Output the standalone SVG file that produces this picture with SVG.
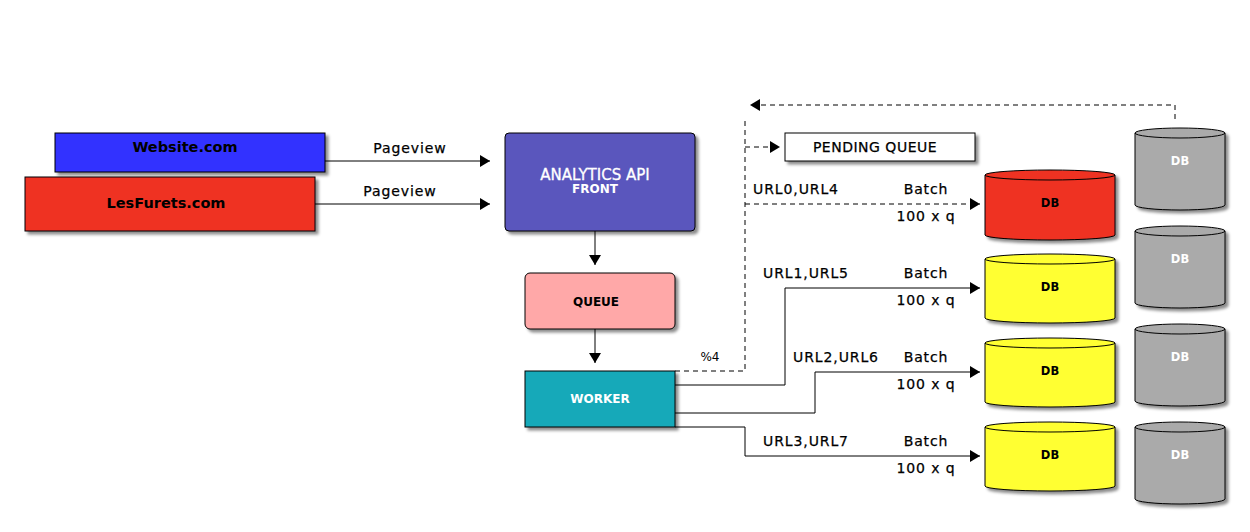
<svg xmlns="http://www.w3.org/2000/svg" width="1250" height="532" viewBox="0 0 1250 532">
<defs>
<filter id="sh" x="-10%" y="-10%" width="130%" height="140%">
<feDropShadow dx="3" dy="3" stdDeviation="1.5" flood-color="#000" flood-opacity="0.45"/>
</filter>
<marker id="ah" viewBox="0 0 10 12" refX="10" refY="6" markerWidth="10" markerHeight="12" markerUnits="userSpaceOnUse" orient="auto">
<path d="M0,0 L10,6 L0,12 Z" fill="#000"/>
</marker>
</defs>
<style>
text{font-family:"DejaVu Sans","Liberation Sans",sans-serif;}
.box{stroke:#000;stroke-width:1;filter:url(#sh);}
.lbl{font-size:14px;letter-spacing:0.9px;fill:#000;stroke:#000;stroke-width:0.25px;}
.b{font-weight:bold;}
.c{text-anchor:middle;}
.w{fill:#fff;}
.db{font-size:11.5px;font-weight:bold;text-anchor:middle;}
.ln{fill:none;stroke:#000;stroke-width:1;}
.ar{marker-end:url(#ah);}
.da{stroke-dasharray:5 4;}
</style>
<rect width="1250" height="532" fill="#fff"/>

<g id="website">
<rect class="box" x="55" y="133" width="270" height="39" fill="#3333ff"/>
<text class="b c" x="185" y="152" font-size="14.5" fill="#000">Website.com</text>
</g>
<g id="lesfurets">
<rect class="box" x="25" y="177" width="290" height="54" fill="#ef3324"/>
<text class="b c" x="166" y="208" font-size="14.5" fill="#000">LesFurets.com</text>
</g>
<g id="analytics">
<rect class="box" x="505" y="133" width="190" height="98" rx="4" fill="#5a56bd"/>
<text class="c w" x="595" y="180" font-size="15" stroke="#fff" stroke-width="0.3">ANALYTICS API</text>
<text class="c w b" x="595" y="193" font-size="12">FRONT</text>
</g>
<g id="queue">
<rect class="box" x="525" y="273" width="150" height="56" rx="5" fill="#ffa8a8"/>
<text class="c b" x="596" y="306" font-size="12">QUEUE</text>
</g>
<g id="worker">
<rect class="box" x="525" y="371" width="150" height="56" fill="#12a9b9"/>
<text class="c b w" x="600" y="403" font-size="12">WORKER</text>
</g>
<g id="pending">
<rect class="box" x="785" y="133" width="190" height="28" fill="#fff"/>
<text class="c" x="875" y="152" font-size="14" letter-spacing="0.5" stroke="#000" stroke-width="0.25">PENDING QUEUE</text>
</g>

<g id="db-red">
<path class="box" d="M985,175 A65,5 0 0 1 1115,175 L1115,235 A65,5 0 0 1 985,235 Z" fill="#ef3324"/>
<path class="ln" d="M985,175 A65,5 0 0 0 1115,175"/>
<text class="db" x="1050" y="207">DB</text>
</g>
<g id="db-y1">
<path class="box" d="M985,259 A65,5 0 0 1 1115,259 L1115,318 A65,5 0 0 1 985,318 Z" fill="#ffff33"/>
<path class="ln" d="M985,259 A65,5 0 0 0 1115,259"/>
<text class="db" x="1050" y="291">DB</text>
</g>
<g id="db-y2">
<path class="box" d="M985,343 A65,5 0 0 1 1115,343 L1115,402 A65,5 0 0 1 985,402 Z" fill="#ffff33"/>
<path class="ln" d="M985,343 A65,5 0 0 0 1115,343"/>
<text class="db" x="1050" y="375">DB</text>
</g>
<g id="db-y3">
<path class="box" d="M985,427 A65,5 0 0 1 1115,427 L1115,486 A65,5 0 0 1 985,486 Z" fill="#ffff33"/>
<path class="ln" d="M985,427 A65,5 0 0 0 1115,427"/>
<text class="db" x="1050" y="459">DB</text>
</g>
<g id="db-g1">
<path class="box" d="M1135,133 A45,5 0 0 1 1225,133 L1225,205 A45,5 0 0 1 1135,205 Z" fill="#aaaaaa"/>
<path class="ln" d="M1135,133 A45,5 0 0 0 1225,133"/>
<text class="db w" x="1180" y="165">DB</text>
</g>
<g id="db-g2">
<path class="box" d="M1135,231 A45,5 0 0 1 1225,231 L1225,303 A45,5 0 0 1 1135,303 Z" fill="#aaaaaa"/>
<path class="ln" d="M1135,231 A45,5 0 0 0 1225,231"/>
<text class="db w" x="1180" y="263">DB</text>
</g>
<g id="db-g3">
<path class="box" d="M1135,329 A45,5 0 0 1 1225,329 L1225,401 A45,5 0 0 1 1135,401 Z" fill="#aaaaaa"/>
<path class="ln" d="M1135,329 A45,5 0 0 0 1225,329"/>
<text class="db w" x="1180" y="361">DB</text>
</g>
<g id="db-g4">
<path class="box" d="M1135,427 A45,5 0 0 1 1225,427 L1225,499 A45,5 0 0 1 1135,499 Z" fill="#aaaaaa"/>
<path class="ln" d="M1135,427 A45,5 0 0 0 1225,427"/>
<text class="db w" x="1180" y="459">DB</text>
</g>

<g id="connectors">
<path class="ln ar" d="M325,161 L490,161"/>
<path class="ln ar" d="M315,204 L490,204"/>
<path class="ln ar" d="M595,231 L595,265"/>
<path class="ln ar" d="M595,329 L595,363"/>
<path class="ln da" d="M675,371 L745,371 L745,118"/>
<path class="ln da ar" d="M745,147 L780,147"/>
<path class="ln da ar" d="M745,204 L980,204"/>
<path class="ln da ar" d="M1175,119 L1175,105 L750,105"/>
<path class="ln ar" d="M675,385 L785,385 L785,288 L980,288"/>
<path class="ln ar" d="M675,413 L815,413 L815,372 L980,372"/>
<path class="ln ar" d="M675,427 L745,427 L745,456 L980,456"/>
<text class="lbl c" x="410" y="153">Pageview</text>
<text class="lbl c" x="400" y="196">Pageview</text>
<text class="lbl" x="753" y="194" letter-spacing="0.5">URL0,URL4</text>
<text class="lbl" x="763" y="278" letter-spacing="0.5">URL1,URL5</text>
<text class="lbl" x="793" y="362" letter-spacing="0.5">URL2,URL6</text>
<text class="lbl" x="763" y="446" letter-spacing="0.5">URL3,URL7</text>
<text class="lbl c" x="926" y="194">Batch</text>
<text class="lbl c" x="926" y="221">100 x q</text>
<text class="lbl c" x="926" y="278">Batch</text>
<text class="lbl c" x="926" y="305">100 x q</text>
<text class="lbl c" x="926" y="362">Batch</text>
<text class="lbl c" x="926" y="389">100 x q</text>
<text class="lbl c" x="926" y="446">Batch</text>
<text class="lbl c" x="926" y="473">100 x q</text>
<text x="710" y="361" font-size="12" text-anchor="middle">%4</text>
</g>
</svg>
